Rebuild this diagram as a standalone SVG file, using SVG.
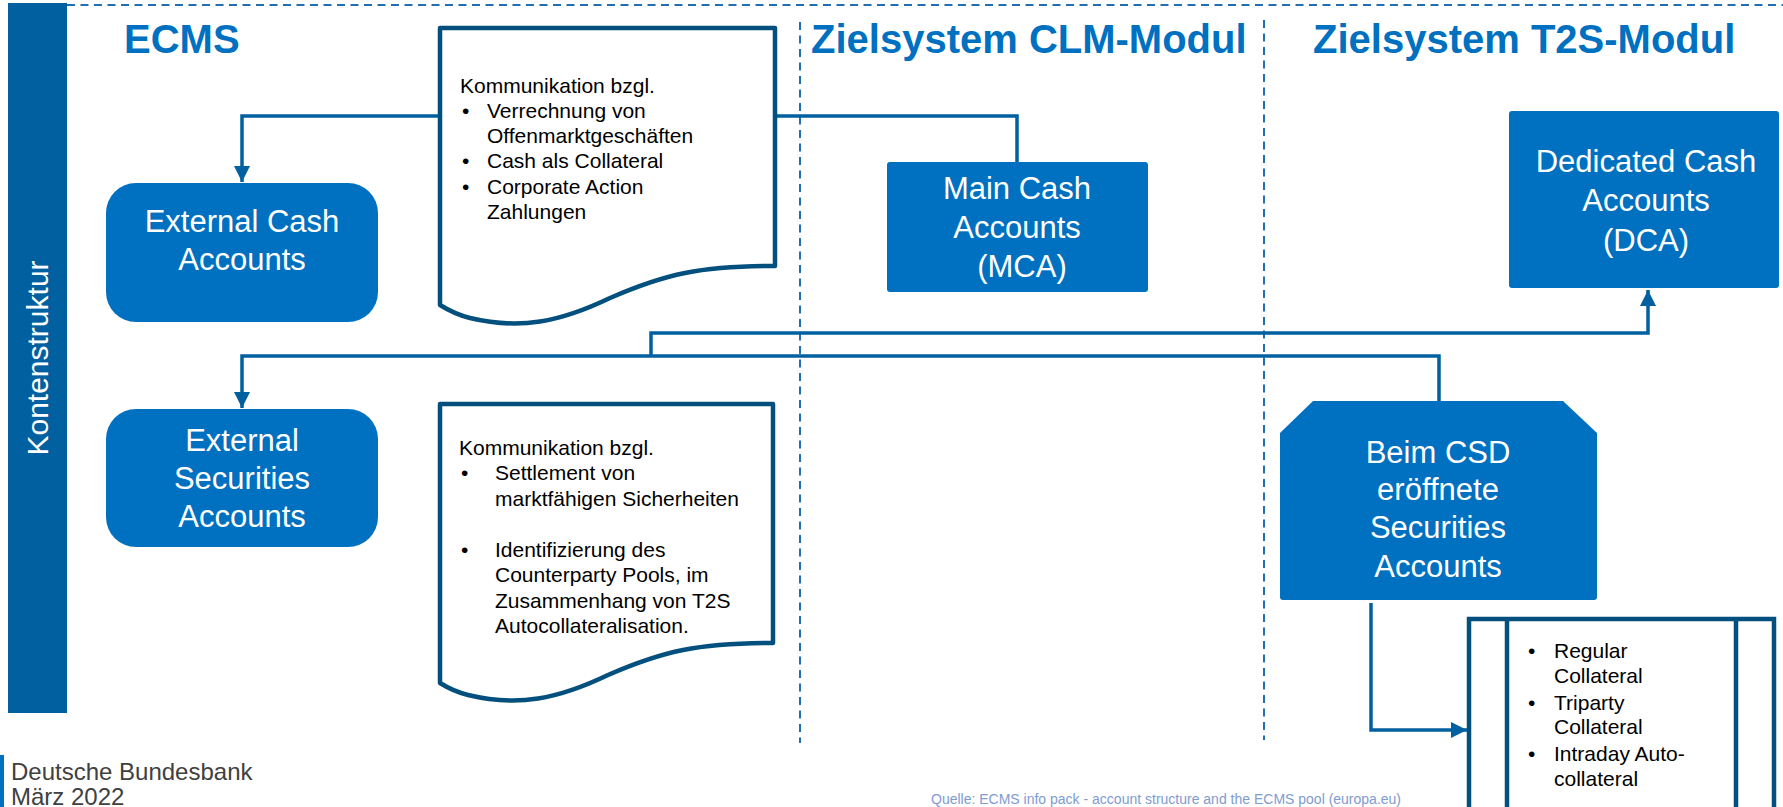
<svg xmlns="http://www.w3.org/2000/svg" width="1783" height="807" viewBox="0 0 1783 807">
<style>
.hdr{font-family:"Liberation Sans",Arial,sans-serif;font-weight:bold;font-size:40px;fill:#0070c0}
.box{fill:#0070c0}
.btxt{font-family:"Liberation Sans",Arial,sans-serif;font-size:31px;fill:#ffffff;text-anchor:middle}
.doc{fill:#ffffff;stroke:#03507f;stroke-width:4.5;stroke-linejoin:round}
.dtxt{font-family:"Liberation Sans",Arial,sans-serif;font-size:21px;fill:#000000}
.con{fill:none;stroke:#0060a0;stroke-width:3.5;stroke-linejoin:miter}
.dash{fill:none;stroke:#1f6fb2;stroke-width:2;stroke-dasharray:8 5.5}
</style>
<defs>
<marker id="arrL" markerWidth="16" markerHeight="16" refX="8" refY="4" orient="auto" markerUnits="userSpaceOnUse" viewBox="0 0 8 8">
<path d="M0,0 L8,4 L0,8 z" fill="#0060a0"/>
</marker>
</defs>
<rect width="1783" height="807" fill="#ffffff"/>

<g id="frame">
<line class="dash" x1="67" y1="5" x2="1783" y2="5"/>
<line class="dash" x1="800" y1="22" x2="800" y2="743"/>
<line class="dash" x1="1264" y1="20" x2="1264" y2="740"/>
</g>

<g id="side-bar">
<rect x="8" y="3" width="59" height="710" fill="#0060a0"/>
<text transform="translate(48,358) rotate(-90)" text-anchor="middle" font-family="'Liberation Sans',Arial,sans-serif" font-size="30" fill="#ffffff">Kontenstruktur</text>
</g>

<g id="headers">
<text class="hdr" x="124" y="53" font-size="39">ECMS</text>
<text class="hdr" x="811" y="53">Zielsystem CLM-Modul</text>
<text class="hdr" x="1313" y="53">Zielsystem T2S-Modul</text>
</g>

<g id="connectors">
<path class="con" d="M1017,162 L1017,116 L242,116 L242,182" marker-end="url(#arrL)"/>
<path class="con" d="M1439,401 L1439,356 L242,356 L242,408" marker-end="url(#arrL)"/>
<path class="con" stroke-width="4.5" d="M651,356 L651,333 L1648,333 L1648,290" marker-end="url(#arrL)"/>
<path class="con" d="M1371,603 L1371,730 L1467,730" marker-end="url(#arrL)"/>
</g>

<g id="doc-cash">
<path class="doc" d="M440,28 L775,28 L775,266 C700,266 665,274 610,298 C560,322 520,330 470,318 C458,315 448,310 440,305 Z"/>
<text class="dtxt" x="460" y="93">Kommunikation bzgl.</text>
<text class="dtxt" x="462" y="118">•</text><text class="dtxt" x="487" y="118">Verrechnung von</text>
<text class="dtxt" x="487" y="143">Offenmarktgeschäften</text>
<text class="dtxt" x="462" y="168">•</text><text class="dtxt" x="487" y="168">Cash als Collateral</text>
<text class="dtxt" x="462" y="194">•</text><text class="dtxt" x="487" y="194">Corporate Action</text>
<text class="dtxt" x="487" y="219">Zahlungen</text>
</g>

<g id="doc-securities">
<path class="doc" d="M440,404 L773,404 L773,643 C698,643 663,651 608,675 C558,699 518,707 468,695 C456,692 448,688 440,683 Z"/>
<text class="dtxt" x="459" y="455">Kommunikation bzgl.</text>
<text class="dtxt" x="461" y="480">•</text><text class="dtxt" x="495" y="480">Settlement von</text>
<text class="dtxt" x="495" y="506">marktfähigen Sicherheiten</text>
<text class="dtxt" x="461" y="557">•</text><text class="dtxt" x="495" y="557">Identifizierung des</text>
<text class="dtxt" x="495" y="582">Counterparty Pools, im</text>
<text class="dtxt" x="495" y="608">Zusammenhang von T2S</text>
<text class="dtxt" x="495" y="633">Autocollateralisation.</text>
</g>

<g id="external-cash">
<rect class="box" x="106" y="183" width="272" height="139" rx="30" ry="30"/>
<text class="btxt" x="242" y="232">External Cash</text>
<text class="btxt" x="242" y="270">Accounts</text>
</g>

<g id="external-securities">
<rect class="box" x="106" y="409" width="272" height="138" rx="30" ry="30"/>
<text class="btxt" x="242" y="451">External</text>
<text class="btxt" x="242" y="489">Securities</text>
<text class="btxt" x="242" y="527">Accounts</text>
</g>

<g id="mca">
<rect class="box" x="887" y="162" width="261" height="130" rx="3" ry="3"/>
<text class="btxt" x="1017" y="199">Main Cash</text>
<text class="btxt" x="1017" y="238">Accounts</text>
<text class="btxt" x="1022" y="277">(MCA)</text>
</g>

<g id="dca">
<rect class="box" x="1509" y="111" width="270" height="177" rx="3" ry="3"/>
<text class="btxt" x="1646" y="172">Dedicated Cash</text>
<text class="btxt" x="1646" y="211">Accounts</text>
<text class="btxt" x="1646" y="251">(DCA)</text>
</g>

<g id="csd-securities">
<path class="box" d="M1313,401 L1563,401 L1597,433 L1597,597 Q1597,600 1594,600 L1283,600 Q1280,600 1280,597 L1280,433 Z"/>
<text class="btxt" x="1438" y="463">Beim CSD</text>
<text class="btxt" x="1438" y="500">eröffnete</text>
<text class="btxt" x="1438" y="538">Securities</text>
<text class="btxt" x="1438" y="577">Accounts</text>
</g>

<g id="collateral-types">
<rect x="1469" y="619" width="305" height="200" fill="#ffffff" stroke="#03507f" stroke-width="4.5"/>
<line x1="1507" y1="619" x2="1507" y2="807" stroke="#03507f" stroke-width="4.5"/>
<line x1="1736" y1="619" x2="1736" y2="807" stroke="#03507f" stroke-width="4.5"/>
<text class="dtxt" x="1528" y="658">•</text><text class="dtxt" x="1554" y="658">Regular</text>
<text class="dtxt" x="1554" y="683">Collateral</text>
<text class="dtxt" x="1528" y="710">•</text><text class="dtxt" x="1554" y="710">Triparty</text>
<text class="dtxt" x="1554" y="734">Collateral</text>
<text class="dtxt" x="1528" y="761">•</text><text class="dtxt" x="1554" y="761">Intraday Auto-</text>
<text class="dtxt" x="1554" y="786">collateral</text>
</g>

<g id="footer">
<rect x="0" y="755" width="4" height="52" fill="#0070c0"/>
<text x="11" y="780" font-family="'Liberation Sans',Arial,sans-serif" font-size="24" fill="#404040">Deutsche Bundesbank</text>
<text x="11" y="805" font-family="'Liberation Sans',Arial,sans-serif" font-size="24" fill="#404040">März 2022</text>
<text x="931" y="804" font-family="'Liberation Sans',Arial,sans-serif" font-size="14" fill="#7f9ccf">Quelle: ECMS info pack - account structure and the ECMS pool (europa.eu)</text>
</g>
</svg>
